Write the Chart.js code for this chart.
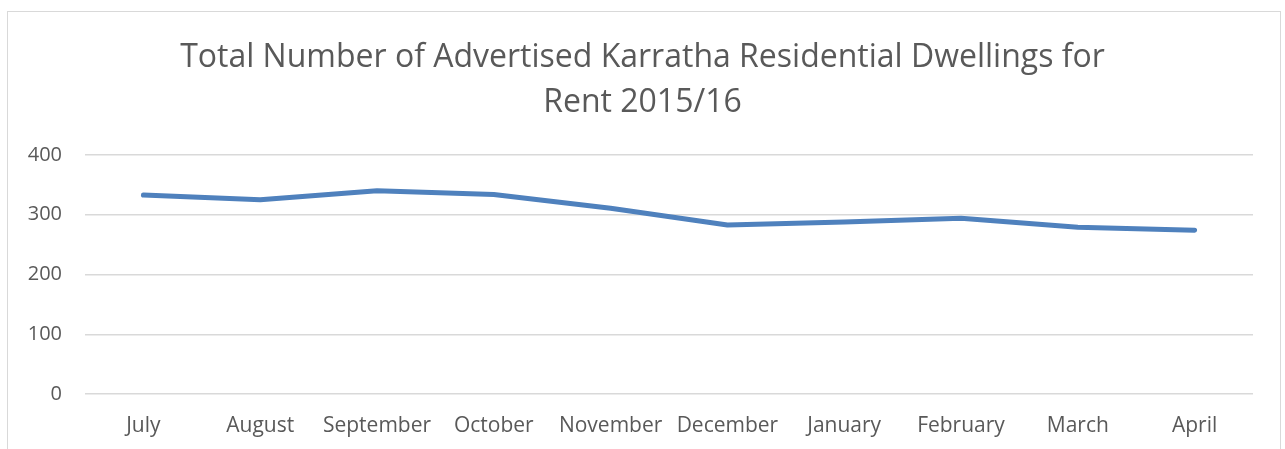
<!DOCTYPE html>
<html>
<head>
<meta charset="utf-8">
<script src="https://cdn.jsdelivr.net/npm/chart.js@4"></script>
<style>
  body { margin: 0; background: #fff; }
  #frame { position: absolute; left: 7px; top: 11px; width: 1272px; height: 460px; border: 1px solid #d9d9d9; }
  #wrap { position: absolute; left: 0; top: 0; width: 1285px; height: 449px; }
</style>
</head>
<body>
<div id="frame"></div>
<div id="wrap"><canvas id="myChart" width="1285" height="449"></canvas></div>
<script>
// data
var months = ['July', 'August', 'September', 'October', 'November', 'December', 'January', 'February', 'March', 'April'];
var dwellings = [333, 325, 340, 334, 311, 283, 288, 294, 279, 274];
var yTicks = [0, 100, 200, 300, 400];
var titleLines = ['Total Number of Advertised Karratha Residential Dwellings for', 'Rent 2015/16'];

var textColor = '#595959';
var fontName = "'Open Sans', sans-serif";

var chart = new Chart(document.getElementById('myChart'), {
    type: 'line',
    data: {
        labels: months,
        datasets: [{
            label: 'Dwellings',
            data: dwellings,
            borderColor: '#4f81bd',
            backgroundColor: '#4f81bd',
            borderWidth: 5,
            radius: 0,
            tension: 0,
            borderCapStyle: 'round',
            borderJoinStyle: 'round'
        }]
    },
    options: {
        responsive: false,
        animation: false,
        layout: { padding: 0 },
        scales: {
            x: {
                offset: true,
                grid: { display: false, drawTicks: false },
                border: { display: false },
                ticks: { color: textColor, font: { family: fontName, size: 21 }, padding: 19, maxRotation: 0, autoSkip: false },
                afterFit: function (scale) { scale.height = 55; }
            },
            y: {
                min: 0,
                max: 400,
                afterBuildTicks: function (scale) { scale.ticks = yTicks.map(function (v) { return { value: v }; }); },
                grid: { color: '#d9d9d9', lineWidth: 1.5, drawTicks: false },
                border: { display: false },
                ticks: { color: textColor, font: { family: fontName, size: 20 }, padding: 23 },
                afterFit: function (scale) { scale.width = 85; }
            },
            // empty right axis, only keeps a gap on the right so the title stays centred
            gap: {
                position: 'right',
                grid: { display: false },
                border: { display: false },
                ticks: { display: false },
                afterFit: function (scale) { scale.width = 32; }
            }
        },
        plugins: {
            legend: { display: false },
            tooltip: { enabled: false },
            title: {
                display: true,
                text: titleLines,
                color: textColor,
                font: { family: fontName, size: 32, weight: 'normal', lineHeight: 1.40625 },
                padding: { top: 35, bottom: 30 }
            }
        }
    }
});
</script>
</body>
</html>
